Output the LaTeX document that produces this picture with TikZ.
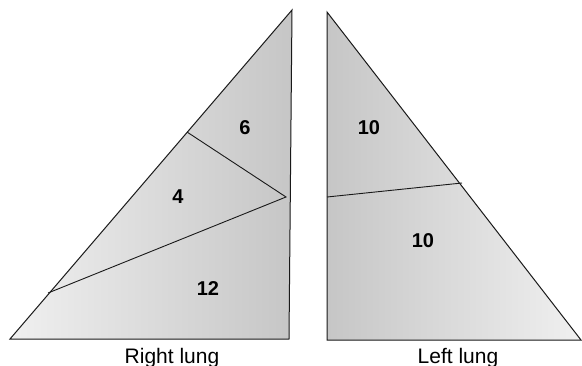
\documentclass[tikz,border=0pt]{standalone}
\usepackage{fontspec}
\setmainfont{Liberation Sans}
\usepackage{tikz}
\usetikzlibrary{calc}
\usepackage{xcolor}
\definecolor{lungdark}{RGB}{198,198,198}
\definecolor{lunglight}{RGB}{240,240,240}
\definecolor{lungline}{RGB}{25,25,25}

\begin{document}
\begin{tikzpicture}[x=1pt,y=-1pt,
  lobe/.style={font=\fontsize{20}{24}\selectfont\bfseries},
  caption/.style={font=\fontsize{21}{25}\selectfont,anchor=base}]
  \useasboundingbox (0,0) rectangle (582,365);

  \coordinate (RT) at (292,10);
  \coordinate (RB) at (10,339);
  \coordinate (RC) at (289,339);
  \coordinate (Ru) at (187,132);
  \coordinate (Rm) at (286,197);
  \coordinate (Rl) at (48,293);

  \coordinate (LT) at (327,12);
  \coordinate (LC) at (327,340);
  \coordinate (LB) at (581,340);
  \coordinate (Lm) at (327,197);
  \coordinate (Lh) at (462,183);

  \shade[left color=lunglight,right color=lungdark] (RT) -- (RB) -- (RC) -- cycle;
  \shade[left color=lungdark,right color=lunglight] (LT) -- (LC) -- (LB) -- cycle;

  \draw[lungline,line width=1pt] (RT) -- (RB) -- (RC) -- cycle;
  \draw[lungline,line width=0.9pt] (Ru) -- (Rm) -- (Rl);

  \draw[lungline,line width=1pt] (LT) -- (LC) -- (LB) -- cycle;
  \draw[lungline,line width=0.9pt] (Lm) -- (Lh);

  \node[lobe] (rup) at (245,128) {6};
  \node[lobe] (rmid) at (178,197) {4};
  \node[lobe] (rlow) at (208,289) {12};
  \node[lobe] (lup) at (369,128) {10};
  \node[lobe] (llow) at (423,241) {10};

  \node[caption] (rname) at (172,363) {Right lung};
  \node[caption] (lname) at (458,363) {Left lung};
\end{tikzpicture}
\end{document}
